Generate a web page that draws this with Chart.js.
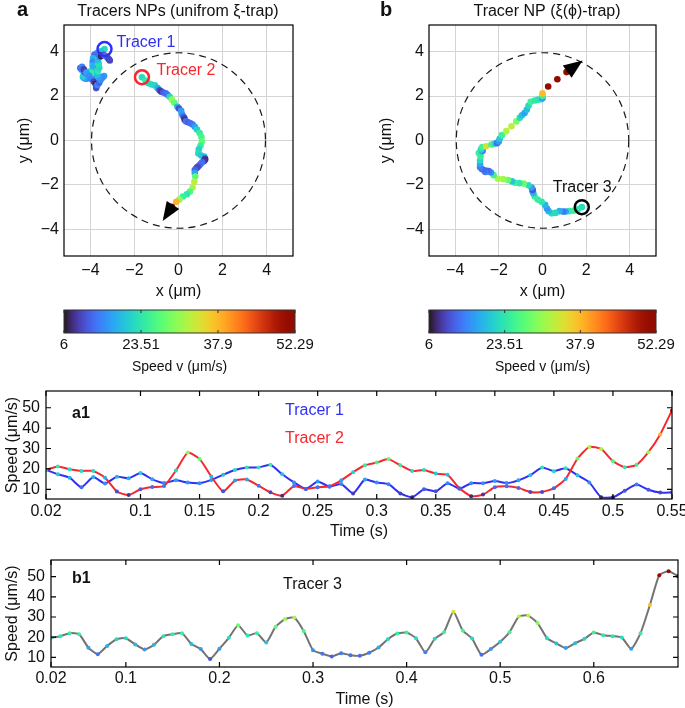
<!DOCTYPE html>
<html lang="en">
<head>
    <meta charset="UTF-8">
    <title>Tracer NP trajectories and speeds</title>
    <script src="https://cdn.jsdelivr.net/npm/chart.js"></script>
    <style>
        body { margin: 0; background: #fff; }
        #figure { position: relative; width: 685px; height: 708px; overflow: hidden; }
        .panel { position: absolute; }
    </style>
</head>
<body>
<div id="figure">
    <div class="panel" style="left:0;top:0"><canvas id="trapA" width="340" height="300"></canvas></div>
    <div class="panel" style="left:340px;top:0"><canvas id="trapB" width="345" height="300"></canvas></div>
    <div class="panel" style="left:0;top:300px"><canvas id="barA" width="340" height="80"></canvas></div>
    <div class="panel" style="left:340px;top:300px"><canvas id="barB" width="345" height="80"></canvas></div>
    <div class="panel" style="left:0;top:380px"><canvas id="speedA" width="685" height="165"></canvas></div>
    <div class="panel" style="left:0;top:548px"><canvas id="speedB" width="685" height="160"></canvas></div>
</div>

<script>
// ---- values ----
var timeA1 = [0.02,0.03,0.04,0.05,0.06,0.07,0.08,0.09,0.10,0.11,0.12,0.13,0.14,0.15,0.16,0.17,0.18,0.19,0.20,0.21,
    0.22,0.23,0.24,0.25,0.26,0.27,0.28,0.29,0.30,0.31,0.32,0.33,0.34,0.35,0.36,0.37,0.38,0.39,0.40,0.41,
    0.42,0.43,0.44,0.45,0.46,0.47,0.48,0.49,0.50,0.51,0.52,0.53,0.54,0.55];
var speedTracer1 = [19.5,17.4,15.7,11.0,16.0,12.8,16.2,15.4,18.0,14.9,13.1,14.4,13.3,13.0,14.6,17.2,19.5,20.7,20.7,22.0,
    17.4,13.4,10.2,13.8,11.3,12.6,8.0,14.8,13.3,12.5,8.0,6.1,10.0,9.0,13.0,10.3,13.0,13.0,14.1,13.1,
    14.4,16.9,20.7,18.9,20.3,16.9,13.4,6.1,6.1,9.3,12.3,9.8,8.4,8.5];
var speedTracer2 = [19.5,21.2,19.8,19.0,19.0,15.7,8.9,7.2,10.0,11.1,11.6,19.2,28.0,24.9,16.2,9.0,14.3,14.8,11.8,8.5,
    6.9,11.6,10.2,11.0,11.5,14.4,18.4,21.8,23.1,24.8,21.8,19.0,19.5,17.7,17.1,10.5,6.6,7.4,11.0,11.5,
    10.7,8.7,8.7,10.5,15.1,25.1,30.8,29.8,23.8,20.8,22.0,28.2,36.9,48.7];
var timeB1 = [0.02,0.03,0.04,0.05,0.06,0.07,0.08,0.09,0.10,0.11,0.12,0.13,0.14,0.15,0.16,0.17,0.18,0.19,0.20,0.21,
    0.22,0.23,0.24,0.25,0.26,0.27,0.28,0.29,0.30,0.31,0.32,0.33,0.34,0.35,0.36,0.37,0.38,0.39,0.40,0.41,
    0.42,0.43,0.44,0.45,0.46,0.47,0.48,0.49,0.50,0.51,0.52,0.53,0.54,0.55,0.56,0.57,0.58,0.59,0.60,0.61,
    0.62,0.63,0.64,0.65,0.66,0.67,0.68,0.69];
var speedTracer3 = [19.7,20.5,22.0,21.5,14.8,11.6,15.7,19.0,19.5,16.4,13.9,16.2,20.5,21.5,22.0,16.6,14.1,9.2,14.3,19.7,
    25.9,20.8,22.0,17.4,25.2,28.9,29.7,23.1,13.6,11.8,10.5,12.1,11.1,10.8,12.3,14.9,19.0,21.8,22.3,19.5,
    12.5,19.2,22.5,32.6,23.3,19.3,11.3,14.1,17.7,22.5,30.2,30.7,27.0,19.5,16.9,14.6,17.0,19.2,22.3,21.0,
    20.5,19.8,14.3,22.0,35.9,50.7,52.6,50.2];

// trajectories (um)
var tracer1X = [-3.36,-3.52,-3.70,-3.82,-3.88,-3.90,-3.90,-3.88,-3.80,-3.74,-3.86,-3.98,-4.10,-4.20,-4.28,-4.34,-4.30,-4.20,-4.06,-3.96,
    -4.08,-4.20,-4.30,-4.40,-4.46,-4.38,-4.30,-4.18,-4.06,-3.94,-3.84,-3.76,-3.72,-3.74,-3.68,-3.60,-3.54,-3.46,-3.38,-3.50,
    -3.62,-3.70,-3.66,-3.60,-3.62,-3.66,-3.58,-3.52,-3.48,-3.40,-3.30,-3.22,-3.16,-3.12];
var tracer1Y = [4.12,4.02,3.94,3.86,3.70,3.54,3.38,3.24,3.10,2.98,2.90,2.84,2.80,2.78,2.80,2.86,2.96,3.04,3.10,3.02,
    2.94,3.00,3.10,3.18,3.26,3.32,3.20,3.06,2.90,2.76,2.64,2.54,2.44,2.36,2.50,2.60,2.72,2.82,2.90,2.86,
    2.84,2.96,3.12,3.28,3.46,3.62,3.76,3.80,3.84,3.86,3.80,3.72,3.66,3.60];
var tracer2X = [-1.66,-1.50,-1.37,-1.22,-1.07,-0.95,-0.86,-0.78,-0.69,-0.58,-0.50,-0.40,-0.30,-0.19,-0.05,0.02,0.12,0.15,0.20,0.26,
    0.28,0.34,0.44,0.54,0.64,0.74,0.84,0.96,1.04,1.06,1.00,0.92,0.90,1.03,1.16,1.20,1.21,1.16,1.07,1.00,
    0.93,0.86,0.80,0.74,0.74,0.76,0.72,0.64,0.52,0.38,0.20,0.04,-0.10,-0.30];
var tracer2Y = [2.85,2.70,2.58,2.52,2.48,2.36,2.26,2.20,2.16,2.12,2.06,1.97,1.84,1.70,1.52,1.44,1.34,1.20,1.10,1.02,
    0.93,0.86,0.82,0.78,0.72,0.62,0.49,0.34,0.16,-0.05,-0.24,-0.40,-0.58,-0.68,-0.72,-0.80,-0.86,-0.92,-0.98,-1.06,
    -1.14,-1.20,-1.26,-1.33,-1.46,-1.62,-1.86,-2.12,-2.30,-2.42,-2.52,-2.66,-2.76,-2.98];
var tracer3X = [1.80,1.62,1.42,1.22,1.06,0.94,0.78,0.60,0.42,0.28,0.20,0.12,-0.04,-0.22,-0.36,-0.42,-0.46,-0.45,-0.50,-0.64,
    -0.86,-1.06,-1.26,-1.40,-1.58,-1.80,-2.04,-2.24,-2.36,-2.46,-2.56,-2.62,-2.68,-2.78,-2.86,-2.86,-2.86,-2.84,-2.92,-2.80,
    -2.74,-2.82,-2.76,-2.58,-2.34,-2.18,-2.08,-2.00,-1.96,-1.86,-1.66,-1.42,-1.20,-1.04,-0.94,-0.82,-0.72,-0.64,-0.54,-0.36,
    -0.20,-0.06,0.00,0.00,0.00,0.26,0.68,1.10];
var tracer3Y = [-3.00,-3.10,-3.16,-3.18,-3.20,-3.20,-3.18,-3.26,-3.28,-3.18,-3.06,-2.90,-2.76,-2.66,-2.52,-2.38,-2.28,-2.22,-2.12,-2.02,
    -1.94,-1.92,-1.90,-1.84,-1.78,-1.74,-1.72,-1.56,-1.44,-1.38,-1.36,-1.42,-1.34,-1.28,-1.20,-1.06,-0.90,-0.72,-0.56,-0.52,
    -0.46,-0.40,-0.30,-0.26,-0.18,-0.14,-0.12,-0.04,0.08,0.24,0.42,0.64,0.86,1.02,1.14,1.24,1.38,1.56,1.74,1.80,
    1.84,1.86,1.90,2.00,2.12,2.43,2.76,3.08];

var posTicks = [-4, -2, 0, 2, 4];
var speedTicks = [10, 20, 30, 40, 50];
var timeTicksA1 = [0.02, 0.1, 0.15, 0.2, 0.25, 0.3, 0.35, 0.4, 0.45, 0.5, 0.55];
var timeTicksB1 = [0.02, 0.1, 0.2, 0.3, 0.4, 0.5, 0.6];
var colorbarTicks = [0, 0.3333, 0.6667, 1];
var colorbarLabels = ['6', '23.51', '37.9', '52.29'];
var trapRadius = 3.95;
var arrowTipA = [-0.72, -3.62];
var arrowTipB = [1.84, 3.60];

// ---- styling helpers ----
var FAMILY = "'Liberation Sans', Arial, Helvetica, sans-serif";
var INK = '#111';
var BLUE = '#2f2ff5';
var RED = '#f5282e';
Chart.defaults.font.family = FAMILY;

// turbo colour map (polynomial approximation)
function turbo(t) {
    t = Math.max(0, Math.min(1, t));
    var r = 0.13572138 + t * (4.61539260 + t * (-42.66032258 + t * (132.13108234 + t * (-152.94239396 + t * 59.28637943))));
    var g = 0.09140261 + t * (2.19418839 + t * (4.84296658 + t * (-14.18503333 + t * (4.27729857 + t * 2.82956604))));
    var b = 0.10667330 + t * (12.64194608 + t * (-60.58204836 + t * (110.36276771 + t * (-89.90310912 + t * 27.34824973))));
    function c(v) { return Math.round(255 * Math.max(0, Math.min(1, v))); }
    return 'rgb(' + c(r) + ',' + c(g) + ',' + c(b) + ')';
}
function speedColor(v) { return turbo((v - 5) / 47); }
function minus(v) { return String(v).replace('-', '\u2212'); }
function useTicks(values) {
    return function (scale) { scale.ticks = values.map(function (v) { return { value: v }; }); };
}
function fixSize(size) {
    return function (scale) {
        if (scale.isHorizontal()) { scale.height = size; scale.paddingLeft = 0; scale.paddingRight = 0; }
        else { scale.width = size; scale.paddingTop = 0; scale.paddingBottom = 0; }
    };
}
function points(xs, ys) { return xs.map(function (x, i) { return { x: x, y: ys[i] }; }); }

// box around the plot area, optional inward ticks
function framePlugin(tickLen) {
    return {
        id: 'frame',
        afterDatasetsDraw: function (chart) {
            var ctx = chart.ctx, a = chart.chartArea, sx = chart.scales.x, sy = chart.scales.y;
            ctx.save();
            ctx.strokeStyle = '#000';
            ctx.lineWidth = 1.2;
            ctx.strokeRect(a.left, a.top, a.right - a.left, a.bottom - a.top);
            if (tickLen) {
                ctx.beginPath();
                sx.ticks.forEach(function (t) {
                    var px = sx.getPixelForValue(t.value);
                    ctx.moveTo(px, a.bottom); ctx.lineTo(px, a.bottom - tickLen);
                    ctx.moveTo(px, a.top); ctx.lineTo(px, a.top + tickLen);
                });
                sy.ticks.forEach(function (t) {
                    var py = sy.getPixelForValue(t.value);
                    ctx.moveTo(a.left, py); ctx.lineTo(a.left + tickLen, py);
                    ctx.moveTo(a.right, py); ctx.lineTo(a.right - tickLen, py);
                });
                ctx.stroke();
            }
            ctx.restore();
        }
    };
}

// free text; items with data:true are placed in axis units
function textPlugin(items) {
    return {
        id: 'texts',
        afterDraw: function (chart) {
            var ctx = chart.ctx;
            ctx.save();
            items.forEach(function (it) {
                var x = it.data ? chart.scales.x.getPixelForValue(it.x) : it.x;
                var y = it.data ? chart.scales.y.getPixelForValue(it.y) : it.y;
                ctx.font = (it.bold ? 'bold ' : '') + it.size + 'px ' + FAMILY;
                ctx.fillStyle = it.color || INK;
                ctx.textAlign = it.align || 'left';
                ctx.textBaseline = 'middle';
                ctx.fillText(it.text, x, y);
            });
            ctx.restore();
        }
    };
}

// dashed trap outline and the end-of-track arrow
function trapPlugin(lastX, lastY, tip) {
    return {
        id: 'trap',
        beforeDatasetsDraw: function (chart) {
            var ctx = chart.ctx, sx = chart.scales.x, sy = chart.scales.y;
            var cx = sx.getPixelForValue(0), cy = sy.getPixelForValue(0);
            ctx.save();
            ctx.setLineDash([7, 5]);
            ctx.strokeStyle = '#1a1a1a';
            ctx.lineWidth = 1.2;
            ctx.beginPath();
            ctx.ellipse(cx, cy, Math.abs(sx.getPixelForValue(trapRadius) - cx), Math.abs(sy.getPixelForValue(trapRadius) - cy), 0, 0, 2 * Math.PI);
            ctx.stroke();
            ctx.restore();
        },
        afterDatasetsDraw: function (chart) {
            var ctx = chart.ctx, sx = chart.scales.x, sy = chart.scales.y;
            var x0 = sx.getPixelForValue(lastX), y0 = sy.getPixelForValue(lastY);
            var x1 = sx.getPixelForValue(tip[0]), y1 = sy.getPixelForValue(tip[1]);
            var ang = Math.atan2(y1 - y0, x1 - x0), len = 19, half = 7.5;
            var bx = x1 - len * Math.cos(ang), by = y1 - len * Math.sin(ang);
            ctx.save();
            ctx.strokeStyle = '#000';
            ctx.fillStyle = '#000';
            ctx.lineWidth = 1.5;
            ctx.beginPath(); ctx.moveTo(x0, y0); ctx.lineTo(bx, by); ctx.stroke();
            ctx.beginPath();
            ctx.moveTo(x1, y1);
            ctx.lineTo(bx + half * Math.sin(ang), by - half * Math.cos(ang));
            ctx.lineTo(bx - half * Math.sin(ang), by + half * Math.cos(ang));
            ctx.closePath();
            ctx.fill();
            ctx.restore();
        }
    };
}

function trapScales(yWidth, yTitlePad) {
    var f16 = { family: FAMILY, size: 16 };
    var t16 = { family: FAMILY, size: 16, lineHeight: 1 };
    return {
        x: {
            type: 'linear', min: -5.2, max: 5.2,
            afterBuildTicks: useTicks(posTicks), afterFit: fixSize(44),
            grid: { color: '#d4d4d4', drawTicks: false }, border: { display: false },
            ticks: { font: f16, color: INK, padding: 5, callback: function (v) { return minus(v); } },
            title: { display: true, text: 'x (μm)', font: t16, color: INK, padding: { top: 0, bottom: 0 } }
        },
        y: {
            type: 'linear', min: -5.2, max: 5.2,
            afterBuildTicks: useTicks(posTicks), afterFit: fixSize(yWidth),
            grid: { color: '#d4d4d4', drawTicks: false }, border: { display: false },
            ticks: { font: f16, color: INK, padding: 5, callback: function (v) { return minus(v); } },
            title: { display: true, text: 'y (μm)', font: t16, color: INK, padding: { top: yTitlePad, bottom: 0 } }
        }
    };
}

function trackSet(xs, ys, speeds, order) {
    return { data: points(xs, ys), pointRadius: 3.3, pointBorderWidth: 0,
        pointBackgroundColor: speeds.map(speedColor), order: order };
}
function startRing(xs, ys, color) {
    return { data: [{ x: xs[0], y: ys[0] }], pointRadius: 7, pointBorderWidth: 2.5,
        pointBorderColor: color, pointBackgroundColor: 'rgba(0,0,0,0)', order: 0 };
}

var common = {
    responsive: false, animation: false, events: [],
    plugins: { legend: { display: false }, tooltip: { enabled: false } }
};

// ---- panel a ----
new Chart(document.getElementById('trapA'), {
    type: 'scatter',
    data: { datasets: [
        startRing(tracer1X, tracer1Y, BLUE),
        startRing(tracer2X, tracer2Y, RED),
        trackSet(tracer2X, tracer2Y, speedTracer2, 1),
        trackSet(tracer1X, tracer1Y, speedTracer1, 2)
    ] },
    options: Object.assign({}, common, {
        layout: { padding: { top: 25, right: 47, left: 0, bottom: 0 } },
        scales: trapScales(64, 17)
    }),
    plugins: [
        trapPlugin(tracer2X[tracer2X.length - 1], tracer2Y[tracer2Y.length - 1], arrowTipA),
        framePlugin(0),
        textPlugin([
            { text: 'a', x: 17, y: 10, size: 20, bold: true },
            { text: 'Tracers NPs (unifrom ξ-trap)', x: 178, y: 12, size: 16, align: 'center' },
            { text: 'Tracer 1', x: -2.82, y: 4.43, data: true, size: 16, color: BLUE },
            { text: 'Tracer 2', x: -1.0, y: 3.14, data: true, size: 16, color: RED }
        ])
    ]
});

// ---- panel b ----
new Chart(document.getElementById('trapB'), {
    type: 'scatter',
    data: { datasets: [
        startRing(tracer3X, tracer3Y, '#000'),
        trackSet(tracer3X, tracer3Y, speedTracer3, 1)
    ] },
    options: Object.assign({}, common, {
        layout: { padding: { top: 25, right: 29, left: 0, bottom: 0 } },
        scales: trapScales(89, 39)
    }),
    plugins: [
        trapPlugin(tracer3X[tracer3X.length - 1], tracer3Y[tracer3Y.length - 1], arrowTipB),
        framePlugin(0),
        textPlugin([
            { text: 'b', x: 40, y: 10, size: 20, bold: true },
            { text: 'Tracer NP (ξ(ϕ)-trap)', x: 207, y: 12, size: 16, align: 'center' },
            { text: 'Tracer 3', x: 0.47, y: -2.14, data: true, size: 16 }
        ])
    ]
});

// ---- colour bars ----
var colorbarPlugin = {
    id: 'colorbar',
    afterDraw: function (chart) {
        var ctx = chart.ctx, a = chart.chartArea, sx = chart.scales.x;
        var grad = ctx.createLinearGradient(a.left, 0, a.right, 0);
        for (var i = 0; i <= 32; i++) grad.addColorStop(i / 32, turbo(i / 32));
        ctx.save();
        ctx.fillStyle = grad;
        ctx.fillRect(a.left, a.top, a.right - a.left, a.bottom - a.top);
        ctx.strokeStyle = '#333';
        ctx.lineWidth = 1;
        ctx.strokeRect(a.left, a.top, a.right - a.left, a.bottom - a.top);
        ctx.beginPath();
        sx.ticks.forEach(function (t) {
            var px = sx.getPixelForValue(t.value);
            ctx.moveTo(px, a.bottom); ctx.lineTo(px, a.bottom - 3);
            ctx.moveTo(px, a.top); ctx.lineTo(px, a.top + 3);
        });
        ctx.stroke();
        ctx.restore();
    }
};
function colorbar(id, left, right) {
    new Chart(document.getElementById(id), {
        type: 'scatter',
        data: { datasets: [] },
        options: Object.assign({}, common, {
            layout: { padding: { top: 10, left: left, right: right, bottom: 0 } },
            scales: {
                x: {
                    type: 'linear', min: 0, max: 1,
                    afterBuildTicks: useTicks(colorbarTicks), afterFit: fixSize(47),
                    grid: { display: false, drawTicks: false }, border: { display: false },
                    ticks: { font: { family: FAMILY, size: 15 }, color: INK, padding: 3,
                        callback: function (v, i) { return colorbarLabels[i]; } },
                    title: { display: true, text: 'Speed v (μm/s)', font: { family: FAMILY, size: 14, lineHeight: 1 },
                        color: INK, padding: { top: 0, bottom: 6 } }
                },
                y: { display: false, min: 0, max: 1 }
            }
        }),
        plugins: [colorbarPlugin]
    });
}
colorbar('barA', 64, 45);
colorbar('barB', 89, 29);

// ---- speed traces ----
function speedScales(xMax, xTicks, yWidth, titlePad) {
    var f16 = { family: FAMILY, size: 16 };
    var t16 = { family: FAMILY, size: 16, lineHeight: 1 };
    return {
        x: {
            type: 'linear', min: 0.02, max: xMax,
            afterBuildTicks: useTicks(xTicks), afterFit: fixSize(titlePad.h),
            grid: { display: false, drawTicks: false }, border: { display: false },
            ticks: { font: f16, color: INK, padding: titlePad.tick, callback: function (v) { return String(v); } },
            title: { display: true, text: 'Time (s)', font: t16, color: INK, padding: { top: 0, bottom: titlePad.bottom } }
        },
        y: {
            type: 'linear', min: 5.25, max: 58.2,
            afterBuildTicks: useTicks(speedTicks), afterFit: fixSize(yWidth),
            grid: { display: false, drawTicks: false }, border: { display: false },
            ticks: { font: f16, color: INK, padding: 6 },
            title: { display: true, text: 'Speed (μm/s)', font: t16, color: INK, padding: { top: 5, bottom: 0 } }
        }
    };
}
function speedSet(times, speeds, color, order) {
    return { data: points(times, speeds), borderColor: color, borderWidth: 2, tension: 0.18,
        pointRadius: 2, pointBorderWidth: 0, pointBackgroundColor: speeds.map(speedColor), order: order };
}

new Chart(document.getElementById('speedA'), {
    type: 'line',
    data: { datasets: [
        speedSet(timeA1, speedTracer2, RED, 1),
        speedSet(timeA1, speedTracer1, BLUE, 2)
    ] },
    options: Object.assign({}, common, {
        layout: { padding: { top: 11, right: 13, left: 0, bottom: 0 } },
        scales: speedScales(0.55, timeTicksA1, 46, { h: 46, tick: 3, bottom: 5 })
    }),
    plugins: [
        framePlugin(5),
        textPlugin([
            { text: 'a1', x: 72, y: 34, size: 16, bold: true },
            { text: 'Tracer 1', x: 285, y: 31, size: 16, color: BLUE },
            { text: 'Tracer 2', x: 285, y: 59, size: 16, color: RED }
        ])
    ]
});

new Chart(document.getElementById('speedB'), {
    type: 'line',
    data: { datasets: [ speedSet(timeB1, speedTracer3, '#737373', 1) ] },
    options: Object.assign({}, common, {
        layout: { padding: { top: 12, right: 7, left: 0, bottom: 0 } },
        scales: speedScales(0.69, timeTicksB1, 51, { h: 41, tick: 2, bottom: 0 })
    }),
    plugins: [
        framePlugin(5),
        textPlugin([
            { text: 'b1', x: 72, y: 31, size: 16, bold: true },
            { text: 'Tracer 3', x: 283, y: 37, size: 16 }
        ])
    ]
});
</script>
</body>
</html>
